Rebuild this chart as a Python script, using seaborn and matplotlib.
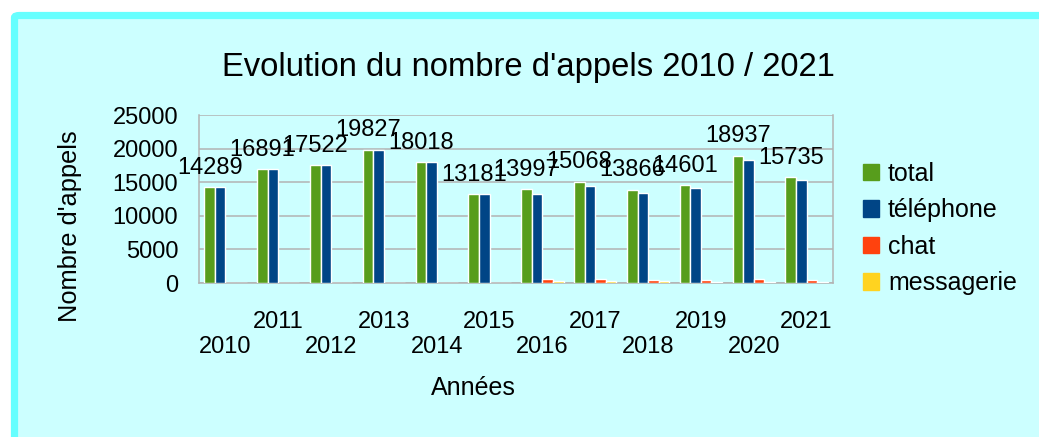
import pandas as pd
import numpy as np
import matplotlib.pyplot as plt
import matplotlib.patches as mpatches
import seaborn as sns

sns.set_style("white")
plt.rcParams['font.family'] = ['Liberation Sans', 'DejaVu Sans']
plt.rcParams['text.color'] = 'black'
plt.rcParams['xtick.color'] = 'black'
plt.rcParams['ytick.color'] = 'black'

# Data
years = ["2010", "2011", "2012", "2013", "2014", "2015",
         "2016", "2017", "2018", "2019", "2020", "2021"]
total = [14289, 16891, 17522, 19827, 18018, 13181,
         13997, 15068, 13866, 14601, 18937, 15735]
telephone = [14289, 16891, 17522, 19827, 18018, 13181,
             13250, 14470, 13420, 14150, 18340, 15290]
chat = [0, 0, 0, 0, 0, 0, 550, 550, 400, 400, 550, 400]
messagerie = [0, 0, 0, 0, 0, 0, 250, 250, 250, 100, 100, 100]
series_names = ["total", "téléphone", "chat", "messagerie"]
colors = ["#579d1c", "#004586", "#ff420e", "#ffd320"]

df = pd.DataFrame({"Année": years, "total": total, "téléphone": telephone,
                   "chat": chat, "messagerie": messagerie})
df_long = df.melt(id_vars="Année", var_name="type", value_name="appels")

W, H = 1039, 437
fig = plt.figure(figsize=(W / 100, H / 100), dpi=100, facecolor="white")

# cyan background frame (drawn behind the axes)
frame = mpatches.FancyBboxPatch((14.5 / W, -0.1), 1.2, (H - 15.5) / H + 0.1,
                                boxstyle="round,pad=0,rounding_size=0.005",
                                transform=fig.transFigure, facecolor="#ccffff",
                                edgecolor="#66ffff", linewidth=5.2, zorder=-10)
fig.patches.append(frame)

ax = fig.add_axes([199 / W, 1 - 283 / H, (833 - 199) / W, (283 - 115) / H])
ax.patch.set_alpha(0)

sns.barplot(data=df_long, x="Année", y="appels", hue="type",
            hue_order=series_names, palette=colors, saturation=1,
            width=0.8, errorbar=None, ax=ax, zorder=3)

# data labels on the total series only
ax.bar_label(ax.containers[0], fmt="%d", fontsize=17, padding=6)

grey = "#b3b3b3"
ax.set_ylim(0, 25000)
ax.set_yticks(np.arange(0, 25001, 5000))
ax.set_xlim(-0.5, len(years) - 0.5)
ax.yaxis.grid(True, color=grey, linewidth=1.1, zorder=0)
ax.set_axisbelow(True)
for side in ["left", "right", "bottom"]:
    ax.spines[side].set_color(grey)
    ax.spines[side].set_linewidth(1.1)
ax.spines["top"].set_visible(False)

# staggered year labels, ticks at category boundaries
labels = [y + "\n" if i % 2 else "\n" + y for i, y in enumerate(years)]
ax.set_xticks(range(len(years)))
ax.set_xticklabels(labels, fontsize=17, linespacing=1.2)
ax.set_xticks(np.arange(-0.5, len(years)), minor=True)
ax.tick_params(axis="x", which="major", length=0, pad=20)
ax.tick_params(axis="x", which="minor", length=7.5, color=grey, width=1.1)
ax.tick_params(axis="y", length=8, color=grey, width=1.1, labelsize=17, pad=7)
ax.set_xlabel("")
ax.set_ylabel("")

fig.text(528 / W, 1 - 76 / H, "Evolution du nombre d'appels 2010 / 2021",
         fontsize=23.6, ha="center", va="baseline")
fig.text(70 / W, 1 - 226 / H, "Nombre d'appels", fontsize=18.3, rotation=90,
         ha="center", va="center")
fig.text(473 / W, 1 - 388 / H, "Années", fontsize=18, ha="center", va="center")

ax.get_legend().remove()
handles = [mpatches.Patch(color=c, label=n) for c, n in zip(colors, series_names)]
fig.legend(handles=handles, loc="center left", bbox_to_anchor=(863 / W, 1 - 228.5 / H),
           frameon=False, fontsize=18, handlelength=0.65, handleheight=0.65,
           handletextpad=0.35, labelspacing=0.5, borderpad=0, borderaxespad=0)

fig.savefig("out.png", dpi=100)
